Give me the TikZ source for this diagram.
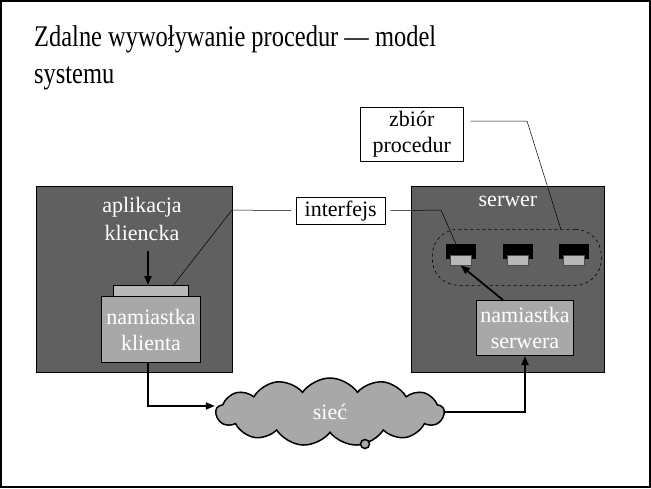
\documentclass[tikz,border=0pt]{standalone}
\usepackage{fontspec}
\usepackage{graphicx}
\setmainfont{Liberation Serif}
\usetikzlibrary{arrows.meta,shapes.symbols}
\definecolor{darkbg}{RGB}{96,96,96}
\definecolor{stubgray}{RGB}{168,168,168}
\definecolor{bargray}{RGB}{184,184,184}
\tikzset{
  darkbox/.style={draw=black, fill=darkbg, line width=0.6pt, inner sep=0pt, anchor=north west},
  stubbox/.style={draw=black, fill=stubgray, line width=1pt, inner sep=0pt, anchor=north west, text=white, align=center, font=\fontsize{22}{26}\selectfont},
  barbox/.style={draw=black, fill=bargray, line width=0.5pt, inner sep=0pt, anchor=north west},
  procbox/.style={fill=black, inner sep=0pt, anchor=north west, minimum width=30pt, minimum height=15pt},
  wlabel/.style={text=white, align=center, font=\fontsize{22}{28}\selectfont},
  callout/.style={draw=black, fill=white, line width=0.5pt, align=center, inner sep=0pt, anchor=north west, font=\fontsize{22}{26}\selectfont},
  thinline/.style={line width=0.5pt},
  arr/.style={line width=1.8pt, -{Triangle[length=9pt,width=7pt]}},
  titlefont/.style={font=\fontsize{30}{36}\selectfont}
}
\begin{document}
\begin{tikzpicture}[x=1pt,y=-1pt]
\useasboundingbox (0,0) rectangle (651,488);
\draw[line width=1.5pt] (1,1) rectangle (650,487);
% title
\node[titlefont, anchor=base west, inner sep=0pt] (t1) at (34,46) {\scalebox{0.815}[1]{Zdalne wywoływanie procedur — model}};
\node[titlefont, anchor=base west, inner sep=0pt] (t2) at (34,83) {\scalebox{0.815}[1]{systemu}};
% big boxes
\node[darkbox, minimum width=196pt, minimum height=186pt] (cbox) at (36,186) {};
\node[darkbox, minimum width=193pt, minimum height=186pt] (sbox) at (411,186) {};
% client side
\node[wlabel] (capp) at (142,219) {aplikacja\\kliencka};
\node[barbox, minimum width=75pt, minimum height=11pt] (ibar) at (113,285) {};
\node[stubbox, minimum width=99pt, minimum height=66pt] (cstub) at (101,296) {namiastka\\klienta};
\coordinate (a1) at (148,251);
\draw[arr] (a1) -- (a1 |- ibar.north);
% server side
\node[wlabel] (srv) at (508,201) {serwer};
\node[draw=black, dashed, line width=0.6pt, rounded corners=26pt, minimum width=169pt, minimum height=56pt, inner sep=0pt, anchor=north west] (procs) at (432,229) {};
\node[procbox] (p1) at (446,244) {};
\node[procbox] (p2) at (503,244) {};
\node[procbox] (p3) at (559,244) {};
\node[barbox, minimum width=21pt, minimum height=10pt, draw=black!70] (p1g) at (450,255) {};
\node[barbox, minimum width=21pt, minimum height=10pt, draw=black!70] (p2g) at (507,255) {};
\node[barbox, minimum width=21pt, minimum height=10pt, draw=black!70] (p3g) at (563,255) {};
\node[stubbox, minimum width=97pt, minimum height=55pt] (sstub) at (476,300) {namiastka\\serwera};
\draw[arr] ([xshift=-22pt]sstub.north) -- (p1g.south);
% callouts
\node[callout, minimum width=89pt, minimum height=27pt] (iface) at (296,197) {interfejs};
\node[callout, minimum width=103pt, minimum height=54pt] (zb) at (360,107) {zbiór\\procedur};
\draw[thinline, shorten <=5pt] (iface.west) -- (232,210) -- ([xshift=-15pt]ibar.north east);
\draw[thinline, shorten <=5pt] (iface.east) -- (441,210) -- (p1g.north);
\draw[thinline, shorten <=7pt] ([yshift=13pt]zb.east) -- (527,121) -- ([xshift=44pt]procs.north);
% network
\node[cloud, cloud puffs=13, cloud puff arc=110, aspect=3.3, draw=black, line width=1.5pt, fill=stubgray, minimum width=228pt, minimum height=68pt, inner sep=0pt, text=white, font=\fontsize{22}{26}\selectfont] (net) at (330,412) {sieć};
\node[circle, draw=black, fill=stubgray, line width=1.5pt, minimum size=9pt, inner sep=0pt] (port) at (365,444) {};
\draw[arr] (cstub.south -| a1) |- ([yshift=6pt]net.west);
\draw[arr] (net.east) -| (sstub.south);
\end{tikzpicture}
\end{document}
